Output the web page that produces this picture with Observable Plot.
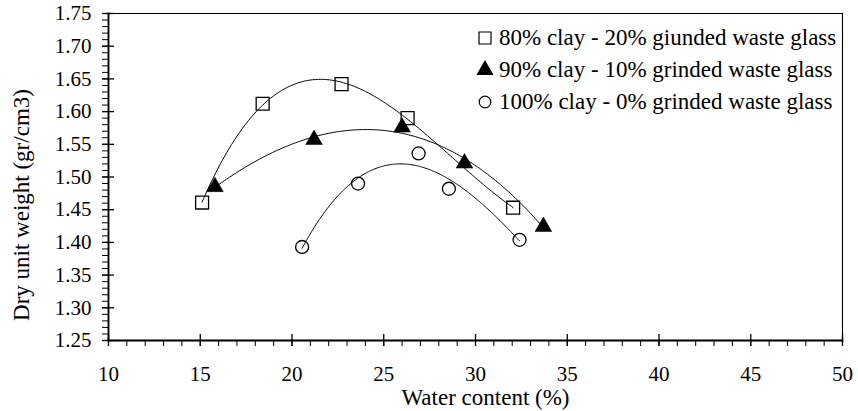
<!DOCTYPE html>
<html>
<head>
<meta charset="utf-8">
<script src="https://cdn.jsdelivr.net/npm/d3@7"></script>
<script src="https://cdn.jsdelivr.net/npm/@observablehq/plot@0.6"></script>
<style>
  html, body { margin: 0; padding: 0; background: #fff; }
  #wrap { position: relative; width: 858px; height: 411px; font-family: "Liberation Serif", "Times New Roman", serif; }
  #legend { position: absolute; left: 476px; top: 22px; font-size: 23px; color: #000; font-family: "Liberation Serif", "Times New Roman", serif; }
  #legend .row { display: flex; align-items: center; height: 32px; white-space: nowrap; }
  #legend svg { width: 18px; height: 18px; margin-right: 5px; overflow: visible; }
</style>
</head>
<body>
<div id="wrap"><div id="legend"></div></div>
<script>
// ---- data ----
const seriesNames = [
  "80% clay - 20% giunded waste glass",
  "90% clay - 10% grinded waste glass",
  "100% clay - 0% grinded waste glass"
];
const waterSquare = [15.1, 18.4, 22.7, 26.3, 32.05];
const dryWSquare  = [1.461, 1.612, 1.642, 1.590, 1.453];
const waterTriangle = [15.8, 21.2, 26.0, 29.4, 33.7];
const dryWTriangle  = [1.485, 1.557, 1.576, 1.521, 1.424];
const waterCircle = [20.55, 23.6, 26.9, 28.55, 32.4];
const dryWCircle  = [1.393, 1.490, 1.536, 1.482, 1.404];

const xMajorTicks = [10, 15, 20, 25, 30, 35, 40, 45, 50];
const yMajorTicks = [1.25, 1.30, 1.35, 1.40, 1.45, 1.50, 1.55, 1.60, 1.65, 1.70, 1.75];
const xAxisTitle = "Water content (%)";
const yAxisTitle = "Dry unit weight (gr/cm3)";

// ---- helpers ----
const xMinorTicks = d3.range(10, 51, 1);
const yMinorTicks = d3.range(125, 176, 1).map(v => v / 100);

// least-squares polynomial trend line (as drawn by the spreadsheet)
function polyfit(xs, ys, deg) {
  const mx = d3.mean(xs);
  const n = deg + 1;
  const A = Array.from({length: n}, () => new Array(n + 1).fill(0));
  xs.forEach((x0, k) => {
    const x = x0 - mx;
    for (let i = 0; i < n; i++) {
      for (let j = 0; j < n; j++) A[i][j] += Math.pow(x, i + j);
      A[i][n] += ys[k] * Math.pow(x, i);
    }
  });
  for (let c = 0; c < n; c++) {
    let p = c;
    for (let r = c + 1; r < n; r++) if (Math.abs(A[r][c]) > Math.abs(A[p][c])) p = r;
    [A[c], A[p]] = [A[p], A[c]];
    for (let r = 0; r < n; r++) {
      if (r === c) continue;
      const f = A[r][c] / A[c][c];
      for (let k = c; k <= n; k++) A[r][k] -= f * A[c][k];
    }
  }
  const coef = A.map((row, i) => row[n] / row[i]);
  return x => coef.reduce((s, c, i) => s + c * Math.pow(x - mx, i), 0);
}
function trend(xs, ys, name) {
  const f = polyfit(xs, ys, 3);
  const x0 = d3.min(xs), x1 = d3.max(xs);
  return d3.range(0, 201).map(i => {
    const x = x0 + (x1 - x0) * i / 200;
    return {series: name, x, y: f(x)};
  });
}
const pts = (xs, ys, name) => xs.map((x, i) => ({series: name, x, y: ys[i]}));

const sq = pts(waterSquare, dryWSquare, seriesNames[0]);
const tr = pts(waterTriangle, dryWTriangle, seriesNames[1]);
const ci = pts(waterCircle, dryWCircle, seriesNames[2]);
const trends = [
  ...trend(waterSquare, dryWSquare, seriesNames[0]),
  ...trend(waterTriangle, dryWTriangle, seriesNames[1]),
  ...trend(waterCircle, dryWCircle, seriesNames[2])
];

const W = 858, H = 411, mL = 108, mR = 16, mT = 13, mB = 71;
const plotW = W - mL - mR, plotH = H - mT - mB;
const serif = "'Liberation Serif','Times New Roman',serif";

const chart = Plot.plot({
  width: W, height: H,
  marginLeft: mL, marginRight: mR, marginTop: mT, marginBottom: mB,
  style: {fontFamily: serif, fontSize: "21px", color: "#000", background: "#fff", overflow: "visible"},
  x: {domain: [10, 50]},
  y: {domain: [1.25, 1.75]},
  marks: [
    // minor ticks (outside)
    Plot.tickX(xMinorTicks, {x: d => d, stroke: "#000", strokeWidth: 1, insetTop: plotH, insetBottom: -6}),
    Plot.tickY(yMinorTicks, {y: d => d, stroke: "#000", strokeWidth: 1, insetLeft: -6, insetRight: plotW}),
    // major ticks (crossing)
    Plot.tickX(xMajorTicks, {x: d => d, stroke: "#000", strokeWidth: 1.3, insetTop: plotH - 6, insetBottom: -6}),
    Plot.tickY(yMajorTicks, {y: d => d, stroke: "#000", strokeWidth: 1.3, insetLeft: -6, insetRight: plotW - 6}),
    Plot.frame({stroke: "#000", strokeWidth: 1.1}),
    Plot.frame({anchor: "left", stroke: "#000", strokeWidth: 1.8}),
    Plot.frame({anchor: "bottom", stroke: "#000", strokeWidth: 1.8}),
    Plot.axisX({ticks: xMajorTicks, tickSize: 0, tickPadding: 26, label: null, fontSize: 21, fontFamily: serif}),
    Plot.axisY({ticks: yMajorTicks, tickSize: 0, tickPadding: 17, label: null, tickFormat: d3.format(".2f"), fontSize: 21, fontFamily: serif}),
    Plot.text([xAxisTitle], {frameAnchor: "bottom", textAnchor: "middle", dx: 10, dy: 57, fontSize: 23, lineAnchor: "middle", fontFamily: serif}),
    Plot.text([yAxisTitle], {frameAnchor: "left", textAnchor: "middle", rotate: -90, dx: -87, dy: 28, fontSize: 23, lineAnchor: "middle", fontFamily: serif}),
    // trend lines
    Plot.line(trends, {x: "x", y: "y", z: "series", stroke: "#000", strokeWidth: 1, curve: "linear"}),
    // markers
    Plot.dot(sq, {x: "x", y: "y", symbol: "square", r: 7.3, fill: "none", stroke: "#000", strokeWidth: 1.3}),
    Plot.dot(tr, {x: "x", y: "y", symbol: "triangle", r: 6.2, fill: "#000", stroke: "#000", strokeWidth: 0.5}),
    Plot.dot(ci, {x: "x", y: "y", symbol: "circle", r: 6.5, fill: "none", stroke: "#000", strokeWidth: 1.3})
  ]
});
const wrap = document.getElementById("wrap");
wrap.insertBefore(chart, wrap.firstChild);

// legend (HTML, inside the plot area at top-right)
const legendSymbols = [
  {type: d3.symbolSquare, size: 12 * 12, fill: "none"},
  {type: d3.symbolTriangle, size: 100, fill: "#000"},
  {type: d3.symbolCircle, size: Math.PI * 5.8 * 5.8, fill: "none"}
];
const legend = d3.select("#legend");
seriesNames.forEach((name, i) => {
  const row = legend.append("div").attr("class", "row");
  const s = row.append("svg").attr("viewBox", "-9 -9 18 18");
  s.append("path")
    .attr("d", d3.symbol(legendSymbols[i].type, legendSymbols[i].size)())
    .attr("fill", legendSymbols[i].fill)
    .attr("stroke", "#000")
    .attr("stroke-width", 1.2);
  row.append("span").text(name);
});
</script>
</body>
</html>
